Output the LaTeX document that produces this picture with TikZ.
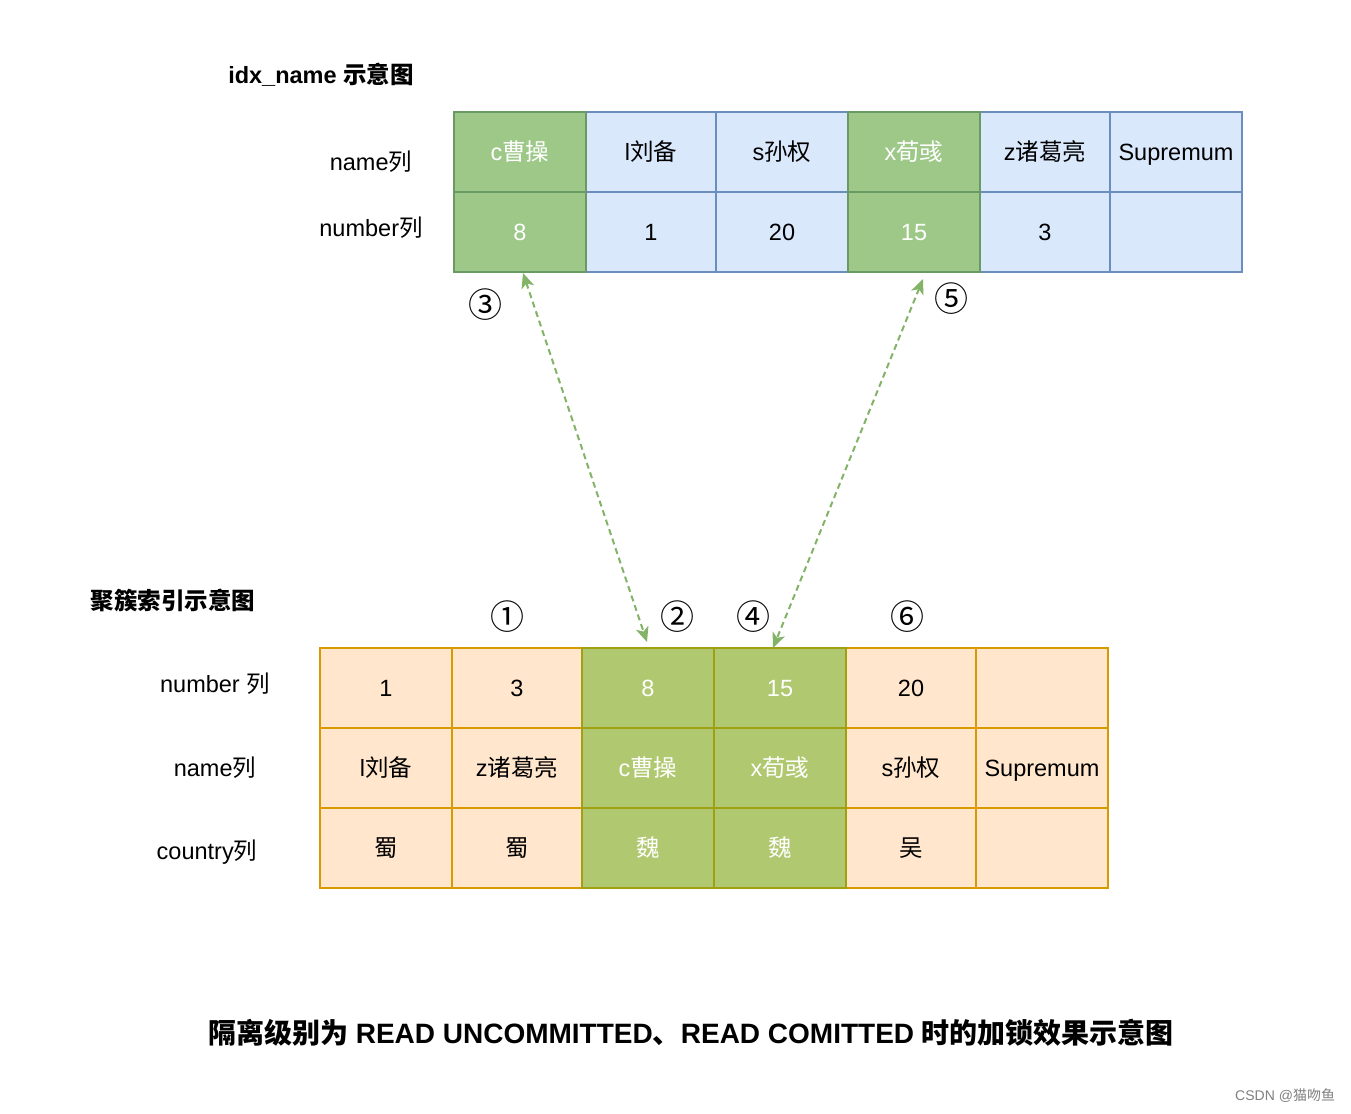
\documentclass[tikz,border=0pt]{standalone}
\usepackage{fontspec}
\setmainfont{Liberation Sans}
\newfontfamily\cjk{Noto Sans CJK SC}
\usetikzlibrary{arrows.meta}
\definecolor{bluefill}{HTML}{DAE8FC}
\definecolor{bluedraw}{HTML}{6C8EBF}
\definecolor{tgfill}{HTML}{9DC888}
\definecolor{tgdraw}{HTML}{6A9A63}
\definecolor{orfill}{HTML}{FFE6CC}
\definecolor{ordraw}{HTML}{D79B00}
\definecolor{bgfill}{HTML}{B0C870}
\definecolor{bgdraw}{HTML}{A0A010}
\definecolor{linkgreen}{HTML}{82B366}
\begin{document}
\begin{tikzpicture}[x=1pt,y=-1pt,
  every node/.style={font=\fontsize{23.5}{28}\selectfont, inner sep=0pt, outer sep=0pt},
  cellbase/.style={draw, line width=2pt, minimum height=80pt, text height=20pt, text depth=4pt},
  bluecell/.style={cellbase, fill=bluefill, draw=bluedraw},
  tgreencell/.style={cellbase, fill=tgfill, draw=tgdraw, text=white},
  orcell/.style={cellbase, fill=orfill, draw=ordraw},
  bgreencell/.style={cellbase, fill=bgfill, draw=bgdraw, text=white},
  title/.style={font=\fontsize{23.5}{28}\selectfont\bfseries},
  circnum/.style={font=\fontsize{34}{36}\selectfont\cjk},
  link/.style={draw=linkgreen, line width=2pt, dash pattern=on 6pt off 4pt,
    {Stealth[length=15pt,width=13pt,inset=4pt]}-{Stealth[length=15pt,width=13pt,inset=4pt]}}
]
\useasboundingbox (0,0) rectangle (1351,1113);
\fill[white] (0,0) rectangle (1351,1113);

% titles and row labels
\node[title] (ttitle) at (321,75) {idx\_name {\cjk 示意图}};
\node (tlab1) at (371,162) {name{\cjk 列}};
\node (tlab2) at (371,228) {number{\cjk 列}};
\node[title] (btitle) at (173,600) {\cjk 聚簇索引示意图};
\node (blab1) at (215,684) {number {\cjk 列}};
\node (blab2) at (215,768) {name{\cjk 列}};
\node (blab3) at (207,852) {country{\cjk 列}};

% top table (idx_name)
\node[bluecell, minimum width=130pt] (t2a) at (651,152) {l{\cjk 刘备}};
\node[bluecell, minimum width=132pt] (t3a) at (782,152) {s{\cjk 孙权}};
\node[bluecell, minimum width=130pt] (t5a) at (1045,152) {z{\cjk 诸葛亮}};
\node[bluecell, minimum width=132pt] (t6a) at (1176,152) {Supremum};
\node[bluecell, minimum width=130pt] (t2b) at (651,232) {1};
\node[bluecell, minimum width=132pt] (t3b) at (782,232) {20};
\node[bluecell, minimum width=130pt] (t5b) at (1045,232) {3};
\node[bluecell, minimum width=132pt] (t6b) at (1176,232) {};
\node[tgreencell, minimum width=132pt] (t1a) at (520,152) {c{\cjk 曹操}};
\node[tgreencell, minimum width=132pt] (t4a) at (914,152) {x{\cjk 荀彧}};
\node[tgreencell, minimum width=132pt] (t1b) at (520,232) {8};
\node[tgreencell, minimum width=132pt] (t4b) at (914,232) {15};

% bottom table (clustered index)
\node[orcell, minimum width=132pt] (b1a) at (386,688) {1};
\node[orcell, minimum width=130pt] (b2a) at (517,688) {3};
\node[orcell, minimum width=130pt] (b5a) at (911,688) {20};
\node[orcell, minimum width=132pt] (b6a) at (1042,688) {};
\node[orcell, minimum width=132pt] (b1b) at (386,768) {l{\cjk 刘备}};
\node[orcell, minimum width=130pt] (b2b) at (517,768) {z{\cjk 诸葛亮}};
\node[orcell, minimum width=130pt] (b5b) at (911,768) {s{\cjk 孙权}};
\node[orcell, minimum width=132pt] (b6b) at (1042,768) {Supremum};
\node[orcell, minimum width=132pt] (b1c) at (386,848) {\cjk 蜀};
\node[orcell, minimum width=130pt] (b2c) at (517,848) {\cjk 蜀};
\node[orcell, minimum width=130pt] (b5c) at (911,848) {\cjk 吴};
\node[orcell, minimum width=132pt] (b6c) at (1042,848) {};
\node[bgreencell, minimum width=132pt] (b3a) at (648,688) {8};
\node[bgreencell, minimum width=132pt] (b4a) at (780,688) {15};
\node[bgreencell, minimum width=132pt] (b3b) at (648,768) {c{\cjk 曹操}};
\node[bgreencell, minimum width=132pt] (b4b) at (780,768) {x{\cjk 荀彧}};
\node[bgreencell, minimum width=132pt] (b3c) at (648,848) {\cjk 魏};
\node[bgreencell, minimum width=132pt] (b4c) at (780,848) {\cjk 魏};

% circled step numbers
\node[circnum] (n3) at (485,305) {③};
\node[circnum] (n5) at (951,299) {⑤};
\node[circnum] (n1) at (507,617) {①};
\node[circnum] (n2) at (677,617) {②};
\node[circnum] (n4) at (753,617) {④};
\node[circnum] (n6) at (907,617) {⑥};

% connectors
\draw[link] ([xshift=3pt,yshift=-1pt]t1b.south) -- ([xshift=-1pt,yshift=6pt]b3a.north);
\draw[link] ([xshift=9pt,yshift=-7pt]t4b.south) -- ([xshift=-7pt]b4a.north);

% caption and watermark
\node[font=\fontsize{28}{32}\selectfont\bfseries] (caption) at (691,1033)
  {{\cjk 隔离级别为} READ UNCOMMITTED{\cjk 、}READ COMITTED {\cjk 时的加锁效果示意图}};
\node[font=\fontsize{14}{16}\selectfont, text=gray, anchor=east] (wm) at (1335,1096) {CSDN @{\cjk 猫吻鱼}};
\end{tikzpicture}
\end{document}
